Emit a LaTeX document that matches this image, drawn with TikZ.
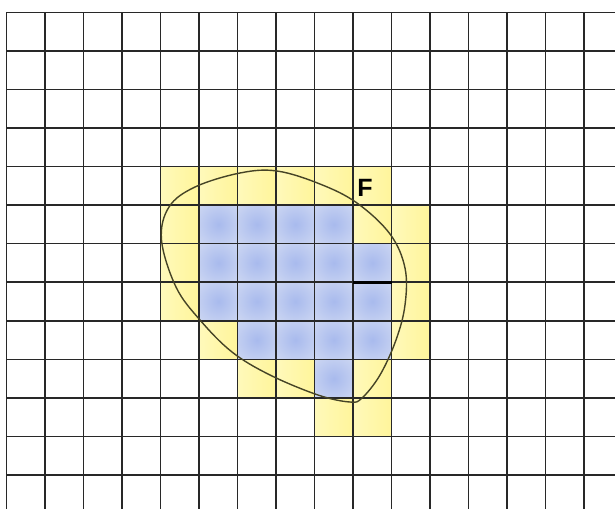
\documentclass[tikz,border=0pt]{standalone}
\usepackage{fontspec}
\setmainfont{Liberation Sans}
\definecolor{gridc}{RGB}{40,40,40}
\definecolor{curvec}{RGB}{70,68,38}
\pgfdeclareradialshading{bluecell}{\pgfpoint{0bp}{0bp}}{rgb(0bp)=(0.66,0.73,0.93);rgb(35bp)=(0.80,0.84,0.95);rgb(55bp)=(0.87,0.89,0.96);rgb(72bp)=(0.90,0.92,0.97)}
\pgfdeclarehorizontalshading{yellowcell}{100bp}{rgb(0bp)=(1,0.985,0.80);rgb(45bp)=(1,0.97,0.68);rgb(78bp)=(1,0.96,0.60);rgb(100bp)=(1,0.975,0.72)}
\tikzset{
  ycell/.style={shading=yellowcell},
  bcell/.style={shading=bluecell},
  gridline/.style={draw=gridc,line width=1.5pt},
  thickseg/.style={draw=black,line width=2.6pt},
  outline/.style={draw=curvec,line width=1.4pt},
  label/.style={font=\bfseries\fontsize{25}{25}\selectfont,text=black,inner sep=0pt}
}
\begin{document}
\begin{tikzpicture}[x=1pt,y=-1pt]
\useasboundingbox (0,0) rectangle (615,509);
\fill[white] (0,0) rectangle (615,509);
\begin{scope}[shift={(6.7,12.3)},x=38.49pt,y=-38.56pt]
  \foreach \c/\r in {4/4,5/4,6/4,7/4,8/4,9/4,4/5,9/5,10/5,4/6,10/6,4/7,10/7,5/8,10/8,6/9,7/9,9/9,8/10,9/10}
    \shade[ycell] (\c,\r) rectangle ++(1,1);
  \foreach \c/\r in {5/5,6/5,7/5,8/5,5/6,6/6,7/6,8/6,9/6,5/7,6/7,7/7,8/7,9/7,6/8,7/8,8/8,9/8,8/9}
    \shade[bcell] (\c,\r) rectangle ++(1,1);
  \foreach \r in {0,...,12}
    \draw[gridline] (0,\r) -- (15.81,\r);
  \foreach \c in {0,...,15}
    \draw[gridline] (\c,0) -- (\c,12.89);
  \coordinate (sa) at (9,7);
  \coordinate (sb) at (10,7);
  \draw[thickseg] (sa) -- (sb);
\end{scope}
\draw[outline] plot[smooth cycle,tension=0.6] coordinates {(161.5,240) (169,207) (195,187) (240,173) (277,171) (320,184) (357,203) (390,234) (405,268) (405,305) (396,340) (380,375) (362,398) (350,402) (318,395) (270,375) (232,352) (200,320) (176,287)};
\node[label] (F) at (365,187.5) {F};
\end{tikzpicture}
\end{document}
